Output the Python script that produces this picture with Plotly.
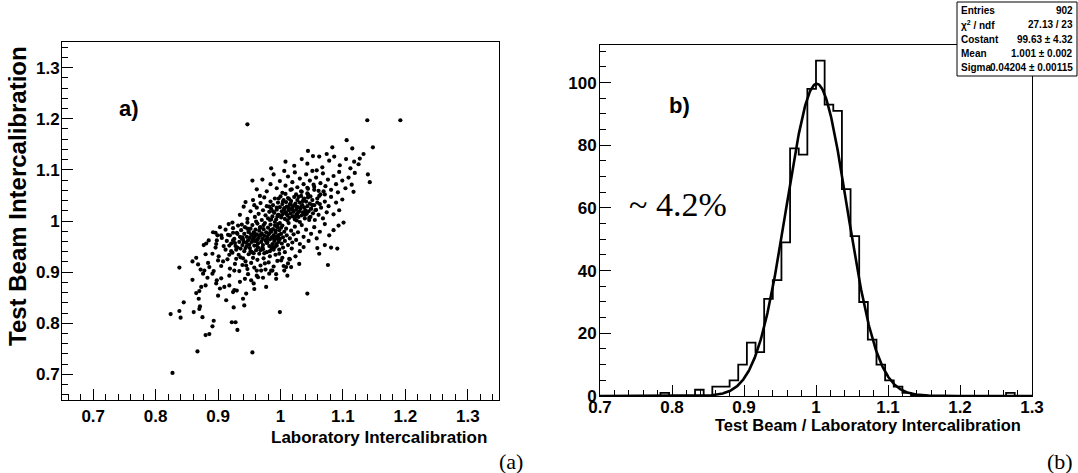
import numpy as np
import plotly.graph_objects as go

# ---------------- Panel (a): scatter ----------------
# isolated / outlying points
lab_x_out = [0.947, 1.139, 1.192, 1.106, 1.148, 1.083, 1.115, 1.008, 1.034, 1.052, 1.062, 1.086, 1.105, 1.127, 1.133,
             1.125, 1.140, 1.143, 1.101, 1.076, 1.081, 1.091, 1.043, 0.999, 0.955, 0.827, 0.867, 0.824, 0.838, 0.840,
             0.845, 0.838, 0.859, 0.859, 0.861, 0.875, 0.880, 0.886, 0.891, 0.893, 0.871, 0.870, 0.922, 0.928, 0.931]
tb_y_out = [1.189, 1.197, 1.197, 1.158, 1.144, 1.144, 1.142, 1.116, 1.121, 1.127, 1.126, 1.126, 1.121, 1.122, 1.131,
            1.111, 1.091, 1.076, 0.997, 0.914, 0.948, 0.946, 0.858, 0.822, 0.743, 0.703, 0.745, 0.818, 0.824, 0.811,
            0.841, 0.909, 0.921, 0.885, 0.822, 0.812, 0.777, 0.779, 0.794, 0.805, 0.833, 0.828, 0.802, 0.802, 0.787]

# lower-left tail
lab_x_tail = [0.869, 0.865, 0.873, 0.881, 0.896, 0.905, 0.916, 0.924, 0.898, 0.891, 0.900, 0.886, 0.878, 0.868, 0.876,
              0.880, 0.891, 0.898, 0.900, 0.913, 0.910, 0.918, 0.924, 0.930, 0.940, 0.942, 0.925, 0.945, 0.958, 0.953,
              0.964, 0.977, 0.969, 0.982, 0.987, 0.993, 1.006, 1.009, 1.017, 1.030, 1.014, 1.001, 0.998]
tb_y_tail = [0.848, 0.859, 0.871, 0.956, 0.977, 0.972, 0.973, 0.977, 0.962, 0.936, 0.923, 0.910, 0.903, 0.915, 0.897,
             0.874, 0.897, 0.884, 0.854, 0.845, 0.871, 0.874, 0.861, 0.864, 0.848, 0.835, 0.831, 0.858, 0.867, 0.884,
             0.890, 0.871, 0.903, 0.897, 0.903, 0.887, 0.903, 0.910, 0.910, 0.916, 0.926, 0.923, 0.936]

# band 0.85 - 0.90
lab_x_b0 = [0.905, 0.918, 0.935, 0.948, 0.957, 0.972, 0.993, 1.011, 0.926, 0.943, 0.962, 0.903, 0.883, 0.870, 0.897]
tb_y_b0 = [0.888, 0.893, 0.881, 0.896, 0.878, 0.889, 0.896, 0.893, 0.865, 0.887, 0.893, 0.868, 0.889, 0.863, 0.878]

# band 0.90 - 0.95
lab_x_b1 = [0.872, 0.884, 0.893, 0.901, 0.905, 0.912, 0.915, 0.919, 0.923, 0.927, 0.931, 0.934, 0.936, 0.939, 0.942,
            0.944, 0.947, 0.949, 0.951, 0.953, 0.956, 0.958, 0.961, 0.963, 0.966, 0.968, 0.971, 0.973, 0.976, 0.978,
            0.981, 0.983, 0.986, 0.989, 0.992, 0.995, 0.998, 1.003, 1.007, 1.012, 1.018, 1.024, 1.031, 0.896, 0.908,
            0.918, 0.926, 0.945, 0.962, 0.975, 0.985, 1.015, 1.037, 0.880, 0.865, 0.957, 0.940, 0.991, 1.005, 0.929]
tb_y_b1 = [0.905, 0.918, 0.902, 0.931, 0.912, 0.944, 0.925, 0.907, 0.938, 0.916, 0.948, 0.902, 0.929, 0.914, 0.941,
           0.921, 0.906, 0.935, 0.947, 0.918, 0.928, 0.909, 0.943, 0.924, 0.936, 0.913, 0.948, 0.927, 0.905, 0.939,
           0.919, 0.931, 0.946, 0.911, 0.934, 0.922, 0.944, 0.928, 0.939, 0.917, 0.946, 0.931, 0.941, 0.948, 0.921,
           0.934, 0.903, 0.913, 0.903, 0.917, 0.903, 0.925, 0.949, 0.935, 0.928, 0.937, 0.927, 0.949, 0.912, 0.926]

# band 0.95 - 1.00 (dense core)
lab_x_b2 = [0.885, 0.892, 0.897, 0.903, 0.906, 0.909, 0.912, 0.914, 0.917, 0.919, 0.921, 0.924, 0.926, 0.928, 0.930,
            0.932, 0.934, 0.935, 0.937, 0.939, 0.940, 0.942, 0.943, 0.945, 0.946, 0.947, 0.948, 0.949, 0.950, 0.951,
            0.952, 0.953, 0.954, 0.955, 0.956, 0.957, 0.958, 0.959, 0.960, 0.961, 0.962, 0.963, 0.964, 0.965, 0.966,
            0.967, 0.968, 0.969, 0.970, 0.971, 0.972, 0.973, 0.974, 0.975, 0.976, 0.977, 0.978, 0.979, 0.980, 0.981,
            0.982, 0.983, 0.984, 0.985, 0.986, 0.987, 0.988, 0.989, 0.990, 0.991, 0.992, 0.993, 0.994, 0.995, 0.996,
            0.997, 0.998, 0.999, 1.001, 1.002, 1.003, 1.004, 1.006, 1.007, 1.009, 1.010, 1.012, 1.013, 1.015, 1.017,
            1.019, 1.021, 1.023, 1.025, 1.028, 1.031, 1.034, 1.037, 1.041, 1.045, 1.049, 1.054, 1.058, 1.063, 0.877,
            0.899, 0.923, 0.938, 0.961, 0.996]
tb_y_b2 = [0.962, 0.978, 0.955, 0.988, 0.967, 0.951, 0.983, 0.961, 0.994, 0.972, 0.956, 0.986, 0.965, 0.951, 0.977,
           0.991, 0.959, 0.969, 0.982, 0.953, 0.964, 0.975, 0.988, 0.958, 0.969, 0.997, 0.962, 0.979, 0.954, 0.967,
           0.985, 0.973, 0.959, 0.992, 0.964, 0.978, 0.952, 0.969, 0.983, 0.961, 0.974, 0.995, 0.956, 0.967, 0.981,
           0.972, 0.988, 0.959, 0.976, 0.965, 0.953, 0.984, 0.971, 0.996, 0.962, 0.978, 0.957, 0.969, 0.987, 0.974,
           0.951, 0.964, 0.993, 0.979, 0.968, 0.955, 0.984, 0.972, 0.961, 0.998, 0.977, 0.966, 0.952, 0.988, 0.971,
           0.959, 0.982, 0.965, 0.975, 0.956, 0.991, 0.968, 0.979, 0.961, 0.985, 0.972, 0.953, 0.996, 0.966, 0.981,
           0.958, 0.974, 0.989, 0.963, 0.978, 0.955, 0.992, 0.969, 0.983, 0.961, 0.975, 0.988, 0.966, 0.979, 0.953,
           0.972, 0.997, 0.993, 0.999, 0.994]

# band 1.00 - 1.05 (dense core)
lab_x_b3 = [0.935, 0.941, 0.947, 0.952, 0.956, 0.959, 0.962, 0.965, 0.968, 0.970, 0.972, 0.974, 0.976, 0.978, 0.980,
            0.982, 0.984, 0.985, 0.987, 0.988, 0.990, 0.991, 0.993, 0.994, 0.996, 0.997, 0.999, 1.000, 1.001, 1.002,
            1.003, 1.004, 1.005, 1.006, 1.007, 1.008, 1.009, 1.010, 1.011, 1.012, 1.013, 1.014, 1.015, 1.016, 1.017,
            1.018, 1.019, 1.020, 1.021, 1.022, 1.023, 1.024, 1.025, 1.026, 1.027, 1.028, 1.029, 1.030, 1.031, 1.032,
            1.033, 1.034, 1.035, 1.036, 1.037, 1.038, 1.039, 1.040, 1.041, 1.042, 1.043, 1.044, 1.045, 1.047, 1.048,
            1.049, 1.051, 1.052, 1.054, 1.055, 1.057, 1.059, 1.061, 1.063, 1.065, 1.068, 1.071, 1.074, 1.077, 1.081,
            1.085, 1.089, 1.094, 1.099, 0.944, 0.967, 0.983, 1.026, 1.046, 1.062, 0.958, 0.995]
tb_y_b3 = [1.012, 1.028, 1.004, 1.019, 1.041, 1.008, 1.026, 1.014, 1.035, 1.002, 1.021, 1.046, 1.011, 1.029, 1.005,
           1.018, 1.038, 1.024, 1.009, 1.031, 1.016, 1.044, 1.003, 1.022, 1.036, 1.012, 1.027, 1.048, 1.007, 1.019,
           1.033, 1.014, 1.041, 1.025, 1.004, 1.017, 1.037, 1.028, 1.011, 1.045, 1.021, 1.006, 1.032, 1.015, 1.039,
           1.024, 1.009, 1.029, 1.018, 1.047, 1.003, 1.034, 1.022, 1.013, 1.041, 1.027, 1.008, 1.019, 1.036, 1.024,
           1.049, 1.011, 1.031, 1.017, 1.043, 1.026, 1.005, 1.021, 1.038, 1.014, 1.029, 1.046, 1.019, 1.034, 1.008,
           1.024, 1.041, 1.015, 1.031, 1.002, 1.022, 1.044, 1.012, 1.033, 1.026, 1.005, 1.038, 1.017, 1.029, 1.047,
           1.013, 1.036, 1.021, 1.042, 1.037, 1.049, 1.002, 1.001, 1.002, 1.049, 1.031, 1.009]

# extra points in the two dense knots of the core
lab_x_core = [0.921, 0.927, 0.933, 0.938, 0.944, 0.949, 0.954, 0.959, 0.964, 0.969, 0.974, 0.979, 0.984, 0.989, 0.994,
              0.924, 0.931, 0.936, 0.941, 0.947, 0.952, 0.957, 0.962, 0.967, 0.972, 0.977, 0.982, 0.987, 0.992, 0.997,
              0.918, 0.929, 0.939, 0.946, 0.953, 0.958, 0.963, 0.968, 0.973, 0.978, 0.983, 0.988, 0.993, 0.998, 1.004,
              0.985, 0.991, 0.996, 1.001, 1.006, 1.011, 1.016, 1.021, 1.026, 1.031, 1.036, 1.041, 1.046, 1.051, 1.056,
              0.988, 0.994, 0.999, 1.004, 1.009, 1.014, 1.019, 1.024, 1.029, 1.034, 1.039, 1.044, 1.049, 1.054, 1.059,
              0.982, 0.997, 1.002, 1.008, 1.013, 1.018, 1.023, 1.028, 1.033, 1.038, 1.043, 1.048, 1.053, 1.064, 1.069]
tb_y_core = [0.941, 0.957, 0.934, 0.966, 0.947, 0.978, 0.939, 0.961, 0.948, 0.973, 0.937, 0.958, 0.982, 0.944, 0.969,
             0.962, 0.975, 0.946, 0.959, 0.985, 0.941, 0.969, 0.952, 0.987, 0.945, 0.964, 0.976, 0.949, 0.981, 0.962,
             0.952, 0.944, 0.968, 0.951, 0.939, 0.976, 0.963, 0.943, 0.992, 0.958, 0.941, 0.967, 0.955, 0.973, 0.948,
             1.003, 0.991, 1.012, 0.987, 1.023, 1.001, 1.034, 1.009, 1.027, 0.998, 1.039, 1.018, 1.006, 1.031, 1.021,
             1.019, 1.026, 0.996, 1.038, 1.015, 1.043, 1.022, 1.008, 1.047, 1.029, 1.012, 1.052, 1.024, 1.061, 1.036,
             1.028, 1.044, 1.011, 1.053, 1.026, 1.062, 1.031, 1.016, 1.058, 1.044, 1.065, 1.048, 1.071, 1.052, 1.058]

# band 1.05 - 1.10
lab_x_b4 = [0.962, 0.971, 0.978, 0.984, 0.989, 0.994, 0.999, 1.003, 1.008, 1.012, 1.016, 1.019, 1.023, 1.027, 1.031,
            1.034, 1.037, 1.041, 1.044, 1.047, 1.051, 1.054, 1.057, 1.061, 1.064, 1.068, 1.072, 1.076, 1.081, 1.085,
            1.089, 1.094, 1.099, 1.104, 1.109, 1.114, 1.119, 1.025, 1.043, 1.071, 1.092, 0.955, 1.006, 1.058, 1.117]
tb_y_b4 = [1.062, 1.081, 1.058, 1.072, 1.091, 1.064, 1.078, 1.055, 1.069, 1.087, 1.061, 1.076, 1.095, 1.066, 1.083,
           1.057, 1.072, 1.091, 1.063, 1.079, 1.098, 1.067, 1.085, 1.059, 1.074, 1.093, 1.068, 1.081, 1.061, 1.088,
           1.072, 1.096, 1.079, 1.064, 1.085, 1.071, 1.094, 1.052, 1.054, 1.052, 1.056, 1.079, 1.098, 1.099, 1.057]

# band 1.10 - 1.15
lab_x_b5 = [0.985, 1.022, 1.043, 1.067, 1.078, 1.095, 1.112, 1.118, 1.074, 1.044]
tb_y_b5 = [1.103, 1.108, 1.112, 1.105, 1.118, 1.109, 1.103, 1.116, 1.131, 1.137]

# right-hand stragglers
lab_x_r = [1.059, 1.071, 1.062, 1.085, 1.093, 1.071, 1.078]
tb_y_r = [0.947, 0.953, 0.936, 0.982, 0.991, 0.994, 0.972]

# ---------------- Panel (b): histogram + gaussian fit ----------------
bin_low = 0.7
bin_width = 0.012
hist_counts = [0, 0, 0, 0, 0, 0, 0, 1, 0, 0, 0, 2, 0, 3, 3, 5, 10, 17, 14, 31, 37, 49, 79, 77, 98,
               107, 93, 91, 66, 51, 30, 18, 10, 5, 3, 1, 0, 0, 0, 0, 0, 0, 0, 0, 0, 0, 0, 1, 0, 0]
fit_const = 99.63
fit_mean = 1.001
fit_sigma = 0.04204
stats_labels = ["Entries", "χ<sup>2</sup> / ndf", "Costant", "Mean", "Sigma"]
stats_values = ["902", "27.13 / 23", "99.63 ± 4.32", "1.001 ± 0.002", "0.04204 ± 0.00115"]

# ---------------- build ----------------
lab_x = (lab_x_out + lab_x_tail + lab_x_b0 + lab_x_b1 + lab_x_b2 + lab_x_b3 + lab_x_core
         + lab_x_b4 + lab_x_b5 + lab_x_r)
tb_y = (tb_y_out + tb_y_tail + tb_y_b0 + tb_y_b1 + tb_y_b2 + tb_y_b3 + tb_y_core
        + tb_y_b4 + tb_y_b5 + tb_y_r)
n = min(len(lab_x), len(tb_y))
lab_x, tb_y = lab_x[:n], tb_y[:n]

edges = [bin_low + i * bin_width for i in range(len(hist_counts) + 1)]
steps = hist_counts + [hist_counts[-1]]
fx = np.linspace(0.7, 1.3, 800)
fy = fit_const * np.exp(-0.5 * ((fx - fit_mean) / fit_sigma) ** 2)

W, H = 1078, 473
def px(x):
    return x / W
def py(y):
    return 1 - y / H

SANS = "Liberation Sans, Arial, sans-serif"
SERIF = "Liberation Serif, Times New Roman, serif"

fig = go.Figure()
fig.add_trace(go.Scatter(x=lab_x, y=tb_y, mode="markers", xaxis="x", yaxis="y",
                         marker=dict(color="black", size=4.2, line=dict(width=0)),
                         showlegend=False, hoverinfo="skip"))
fig.add_trace(go.Scatter(x=edges, y=steps, mode="lines", xaxis="x2", yaxis="y2",
                         line=dict(color="black", width=1.8, shape="hv"),
                         showlegend=False, hoverinfo="skip"))
fig.add_trace(go.Scatter(x=fx, y=fy, mode="lines", xaxis="x2", yaxis="y2",
                         line=dict(color="black", width=2.6),
                         showlegend=False, hoverinfo="skip"))

tickfont = dict(family=SANS, size=17, color="black", weight="bold")
common = dict(showgrid=False, zeroline=False, showline=True, linecolor="black", linewidth=1,
              mirror=True, ticks="inside", ticklen=11, tickwidth=1, tickcolor="black",
              tickfont=tickfont, automargin=False)

fig.update_layout(
    width=W, height=H, margin=dict(l=0, r=0, t=0, b=0), autosize=False,
    paper_bgcolor="white", plot_bgcolor="white", template="none", showlegend=False,
    xaxis=dict(domain=[px(62), px(499)], range=[0.65, 1.35], anchor="y", tick0=0.7, dtick=0.1,
               minor=dict(ticks="inside", ticklen=6, dtick=0.02, tick0=0.7, tickcolor="black"),
               ticklabelstandoff=1, **common),
    yaxis=dict(domain=[py(400), py(42)], range=[0.65, 1.35], anchor="x", tick0=0.7, dtick=0.1,
               minor=dict(ticks="inside", ticklen=6, dtick=0.02, tick0=0.7, tickcolor="black"),
               ticklabelstandoff=-2, **common),
    xaxis2=dict(domain=[px(600), px(1032)], range=[0.7, 1.3], anchor="y2", tick0=0.7, dtick=0.1,
                minor=dict(ticks="inside", ticklen=6, dtick=0.02, tick0=0.7, tickcolor="black"),
                ticklabelstandoff=-4, **common),
    yaxis2=dict(domain=[py(396), py(45)], range=[0, 112], anchor="x2", tick0=0, dtick=20,
                minor=dict(ticks="inside", ticklen=6, dtick=5, tick0=0, tickcolor="black"),
                ticklabelstandoff=-1, **common),
)


def note(text, x, y, family, size, bold=False, xanchor="center", angle=0):
    return dict(text=text, x=px(x), y=py(y), xref="paper", yref="paper", xanchor=xanchor,
                yanchor="middle", textangle=angle, showarrow=False,
                font=dict(family=family, size=size, color="black", weight="bold" if bold else "normal"))


ann = [
    note("Test Beam Intercalibration", 17, 196, SANS, 24, bold=True, angle=-90),
    note("Laboratory Intercalibration", 489, 437, SANS, 17, bold=True, xanchor="right"),
    note("Test Beam / Laboratory Intercalibration", 1023, 425, SANS, 16.5, bold=True, xanchor="right"),
    note("a)", 129, 108, SANS, 22, bold=True),
    note("b)", 679, 106, SANS, 22, bold=True),
    note("~ 4.2%", 678, 204, SERIF, 34),
    note("(a)", 511, 461, SERIF, 22),
    note("(b)", 1060, 461, SERIF, 22),
]

row_y = [10, 24.5, 39, 53.5, 68]
for lab, val, yy in zip(stats_labels, stats_values, row_y):
    ann.append(note(lab, 959, yy, SANS, 10, bold=True, xanchor="left"))
    ann.append(note(val, 1075, yy, SANS, 10, bold=True, xanchor="right"))

fig.update_layout(annotations=ann,
                  shapes=[dict(type="rect", xref="paper", yref="paper", x0=px(957), x1=px(1077),
                               y0=py(76), y1=py(2), line=dict(color="black", width=1),
                               fillcolor="white", layer="above")])

fig.write_html("out.html", config={"displayModeBar": False},
               post_script="document.body.style.margin='0';document.body.style.overflow='hidden';")
